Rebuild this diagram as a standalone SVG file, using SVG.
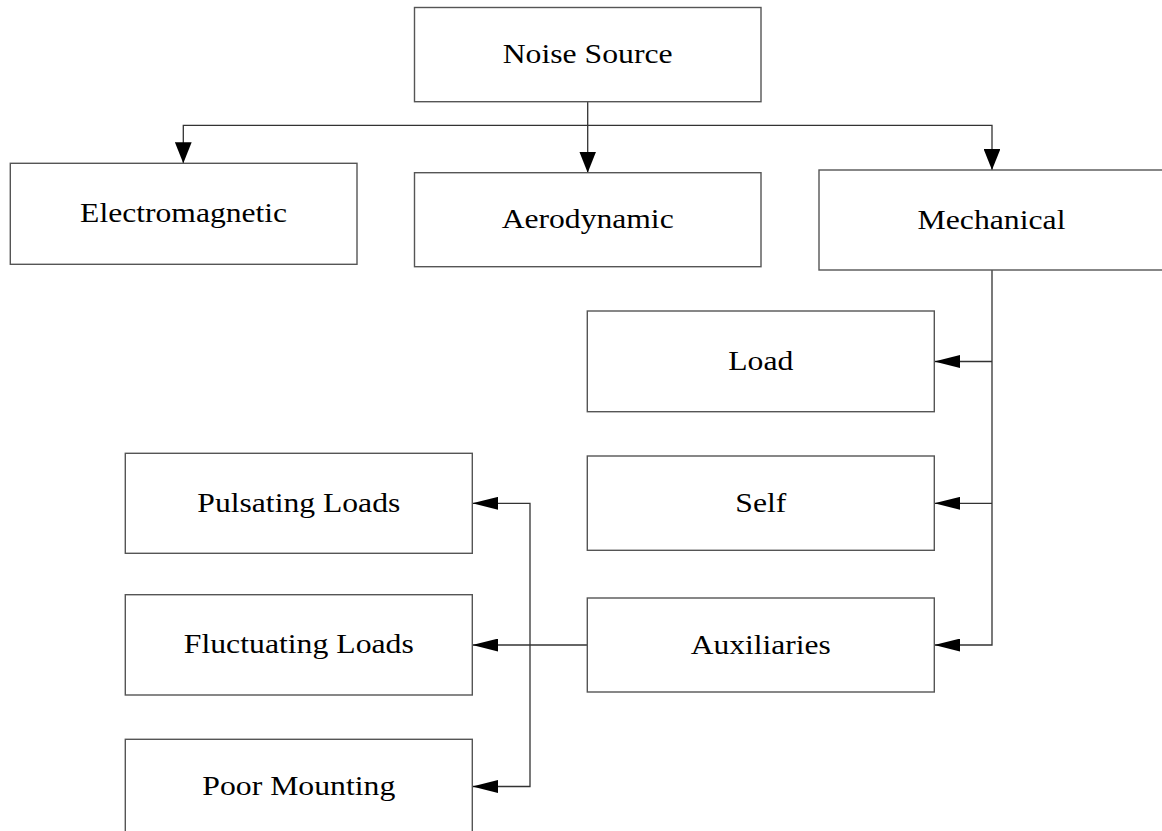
<svg xmlns="http://www.w3.org/2000/svg" width="1162" height="831" viewBox="0 0 1162 831">
<style>
.box{fill:#ffffff;stroke:#555555;stroke-width:1.4}
.lbl{font-family:"Liberation Serif","Times New Roman",serif;font-size:28px;fill:#000000;text-anchor:middle}
.con{fill:none;stroke:#333333;stroke-width:1.3}
</style>
<defs>
<marker id="arrV" markerUnits="userSpaceOnUse" viewBox="0 0 21 16.7" markerWidth="21" markerHeight="16.7" refX="21" refY="8.35" orient="auto"><path d="M0,0 L21,8.35 L0,16.7 Z" fill="#000000"/></marker>
<marker id="arrH" markerUnits="userSpaceOnUse" viewBox="0 0 26 13" markerWidth="26" markerHeight="13" refX="26" refY="6.5" orient="auto"><path d="M0,0 L26,6.5 L0,13 Z" fill="#000000"/></marker>
</defs>
<rect width="1162" height="831" fill="#ffffff"/>
<g id="connectors">
<path class="con" d="M587.7,101.7 V172.7" marker-end="url(#arrV)"/>
<path class="con" d="M587.7,125.3 H183.3 V163.3" marker-end="url(#arrV)"/>
<path class="con" d="M587.7,125.3 H992 V170" marker-end="url(#arrV)"/>
<path class="con" d="M992,270 V645 H934.3" marker-end="url(#arrH)"/>
<path class="con" d="M992,361.5 H934.3" marker-end="url(#arrH)"/>
<path class="con" d="M992,503.3 H934.3" marker-end="url(#arrH)"/>
<path class="con" d="M587.3,645 H472.3" marker-end="url(#arrH)"/>
<path class="con" d="M530,645 V503.3 H472.3" marker-end="url(#arrH)"/>
<path class="con" d="M530,645 V786.5 H472.3" marker-end="url(#arrH)"/>
</g>
<g id="noise-source"><rect class="box" x="414.5" y="7.5" width="346.5" height="94.2"/><text class="lbl" x="587.7" y="63.3" textLength="170" lengthAdjust="spacingAndGlyphs">Noise Source</text></g>
<g id="electromagnetic"><rect class="box" x="10.3" y="163.3" width="346.7" height="101"/><text class="lbl" x="183.6" y="222" textLength="207" lengthAdjust="spacingAndGlyphs">Electromagnetic</text></g>
<g id="aerodynamic"><rect class="box" x="414.5" y="172.7" width="346.5" height="94"/><text class="lbl" x="587.7" y="228" textLength="172" lengthAdjust="spacingAndGlyphs">Aerodynamic</text></g>
<g id="mechanical"><rect class="box" x="819" y="170" width="345" height="100"/><text class="lbl" x="991.5" y="228.5" textLength="148" lengthAdjust="spacingAndGlyphs">Mechanical</text></g>
<g id="load"><rect class="box" x="587.3" y="311" width="347" height="100.7"/><text class="lbl" x="760.8" y="369.8" textLength="65" lengthAdjust="spacingAndGlyphs">Load</text></g>
<g id="self"><rect class="box" x="587.3" y="456" width="347" height="94.3"/><text class="lbl" x="760.8" y="511.7" textLength="51" lengthAdjust="spacingAndGlyphs">Self</text></g>
<g id="auxiliaries"><rect class="box" x="587.3" y="598" width="347" height="94"/><text class="lbl" x="760.8" y="653.5" textLength="140" lengthAdjust="spacingAndGlyphs">Auxiliaries</text></g>
<g id="pulsating-loads"><rect class="box" x="125.3" y="453.3" width="347" height="100"/><text class="lbl" x="298.8" y="511.8" textLength="203" lengthAdjust="spacingAndGlyphs">Pulsating Loads</text></g>
<g id="fluctuating-loads"><rect class="box" x="125.3" y="594.7" width="347" height="100.3"/><text class="lbl" x="298.8" y="653.3" textLength="230" lengthAdjust="spacingAndGlyphs">Fluctuating Loads</text></g>
<g id="poor-mounting"><rect class="box" x="125.3" y="739.3" width="347" height="100"/><text class="lbl" x="298.8" y="795" textLength="193" lengthAdjust="spacingAndGlyphs">Poor Mounting</text></g>
</svg>
